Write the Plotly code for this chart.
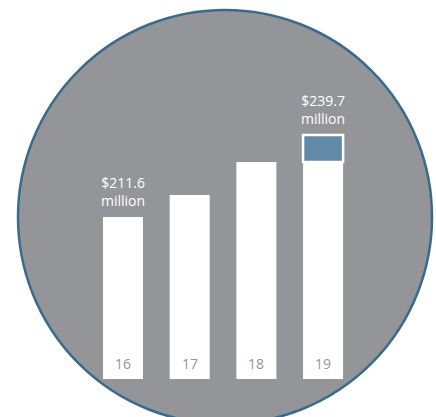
import plotly.graph_objects as go

years = ["16", "17", "18", "19"]
values = [211.6, 219.2, 230.5, 239.7]
labels = ["$211.6<br>million", "", "", "$239.7<br>million"]
increase_base = [None, None, None, 230.5]

GRAY = "#939598"
BORDER = "#3a6b8c"
BLUE = "#6389a9"
BASE = 156.1

xs = list(range(len(years)))

fig = go.Figure()
fig.add_trace(go.Bar(
    x=xs, y=[v - BASE for v in values], base=BASE, width=0.6,
    marker=dict(color="white", line=dict(width=0)),
    hoverinfo="skip",
))
fig.add_trace(go.Bar(
    x=[xs[3]], y=[values[3] - increase_base[3]], base=increase_base[3], width=0.6,
    marker=dict(color=BLUE, line=dict(color="white", width=2.5)),
    hoverinfo="skip",
))

for i, (yr, v, lab) in enumerate(zip(years, values, labels)):
    fig.add_annotation(x=i, y=BASE, text=yr, showarrow=False, yanchor="bottom",
                       yshift=4, font=dict(family="Open Sans", size=14, color=GRAY))
    if lab:
        fig.add_annotation(x=i, y=v, text=lab, showarrow=False, yanchor="bottom",
                           yshift=5, font=dict(family="Open Sans", size=14, color="white"))

W, H = 436, 417
fig.add_shape(type="circle", xref="paper", yref="paper", layer="below",
              x0=18 / W, x1=432 / W, y0=1 - 424 / H, y1=1 - 10 / H,
              fillcolor=GRAY, line=dict(color=BORDER, width=2.5))

fig.update_layout(
    width=W, height=H, margin=dict(l=0, r=0, t=0, b=0),
    paper_bgcolor="white", plot_bgcolor="rgba(0,0,0,0)",
    barmode="overlay", showlegend=False,
    xaxis=dict(range=[-1.844, 4.693], visible=False, fixedrange=True),
    yaxis=dict(range=[143.1, 286.0], visible=False, fixedrange=True),
)
fig.write_html("out.html", config={"displayModeBar": False},
               post_script="document.body.style.margin='0';document.body.style.overflow='hidden';")
